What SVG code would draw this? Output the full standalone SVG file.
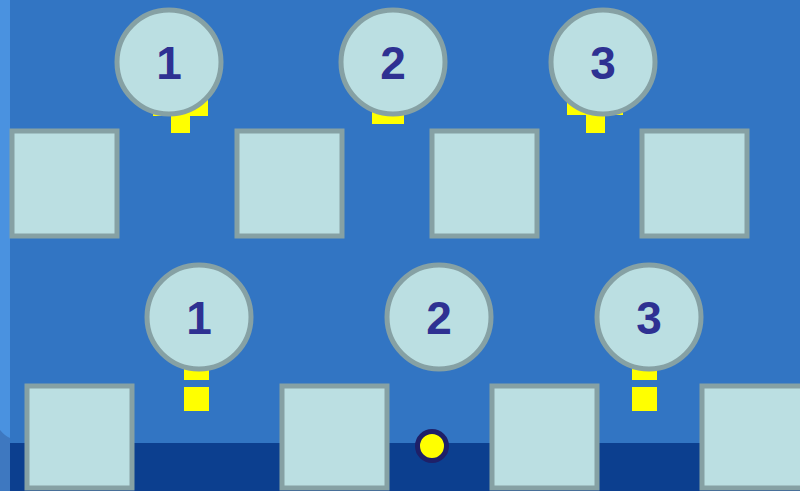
<svg xmlns="http://www.w3.org/2000/svg" width="800" height="491" viewBox="0 0 800 491">
<style>
.sq{fill:#bbdfe2;stroke:#86a1a4;stroke-width:5}
.cir{fill:#bbdfe2;stroke:#86a1a4;stroke-width:5}
.y{fill:#ffff00}
.num{font-family:"Liberation Sans",Arial,sans-serif;font-weight:bold;font-size:46px;fill:#2e3192;text-anchor:middle}
</style>
<rect x="0" y="0" width="800" height="491" fill="#3275c3"/>
<rect x="0" y="443" width="800" height="48" fill="#0c3f8f"/>
<rect x="0" y="0" width="10" height="491" fill="#4a92e0"/>
<path d="M0,430 Q5,436 10,438 L10,491 L0,491 Z" fill="#3e78c0"/>
<g id="connectors">
<rect class="y" x="153" y="98" width="55" height="18"/>
<rect class="y" x="171" y="110" width="19" height="23"/>
<rect class="y" x="372" y="100" width="32" height="24"/>
<rect class="y" x="567" y="98" width="56" height="17"/>
<rect class="y" x="586" y="110" width="19" height="23"/>
<rect class="y" x="184" y="355" width="25" height="25"/>
<rect class="y" x="184" y="387" width="25" height="24"/>
<rect class="y" x="632" y="355" width="25" height="25"/>
<rect class="y" x="632" y="387" width="25" height="24"/>
</g>
<g id="sq-t1"><rect class="sq" x="12" y="131" width="105" height="105"/></g>
<g id="sq-t2"><rect class="sq" x="237" y="131" width="105" height="105"/></g>
<g id="sq-t3"><rect class="sq" x="432" y="131" width="105" height="105"/></g>
<g id="sq-t4"><rect class="sq" x="642" y="131" width="105" height="105"/></g>
<g id="sq-b1"><rect class="sq" x="27" y="386" width="105" height="102"/></g>
<g id="sq-b2"><rect class="sq" x="282" y="386" width="105" height="102"/></g>
<g id="sq-b3"><rect class="sq" x="492" y="386" width="105" height="102"/></g>
<g id="sq-b4"><rect class="sq" x="702" y="386" width="105" height="102"/></g>
<g id="c-t1"><circle class="cir" cx="169" cy="62" r="52"/><text class="num" x="169" y="79">1</text></g>
<g id="c-t2"><circle class="cir" cx="393" cy="62" r="52"/><text class="num" x="393" y="79">2</text></g>
<g id="c-t3"><circle class="cir" cx="603" cy="62" r="52"/><text class="num" x="603" y="79">3</text></g>
<g id="c-b1"><circle class="cir" cx="199" cy="317" r="52"/><text class="num" x="199" y="334">1</text></g>
<g id="c-b2"><circle class="cir" cx="439" cy="317" r="52"/><text class="num" x="439" y="334">2</text></g>
<g id="c-b3"><circle class="cir" cx="649" cy="317" r="52"/><text class="num" x="649" y="334">3</text></g>
<g id="dot"><circle cx="432" cy="446" r="14.5" fill="#ffff00" stroke="#1e2068" stroke-width="5"/></g>
</svg>
